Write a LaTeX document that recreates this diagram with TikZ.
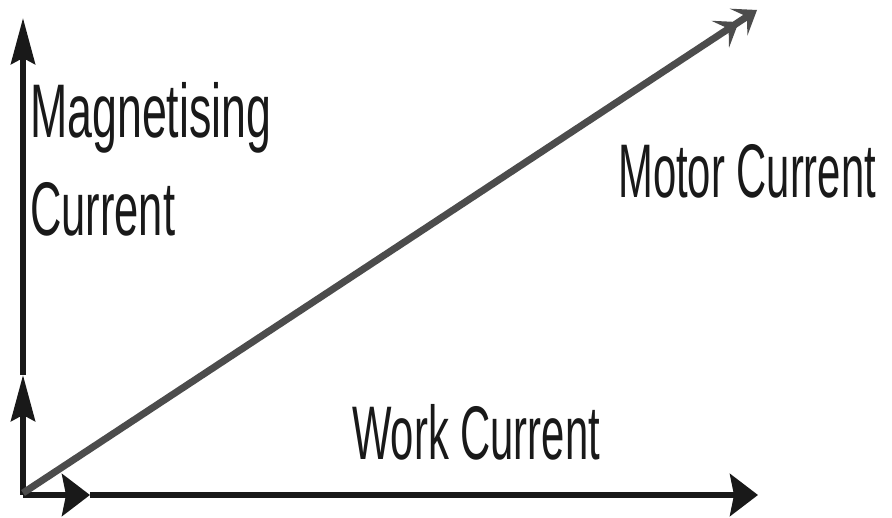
\documentclass[tikz,border=0pt]{standalone}
\usepackage{fontspec}
\setmainfont{Liberation Sans}
\usetikzlibrary{arrows.meta}
\begin{document}
\begin{tikzpicture}[x=0.5pt,y=0.5pt,
  axis/.style={line width=3pt, draw=black!90},
  vtip/.style={-{Stealth[length=23pt,width=12pt,inset=3pt]}},
  htip/.style={-{Stealth[length=14pt,width=21pt,inset=2pt]}},
  mtip/.style={-{Stealth[length=11pt,width=16pt,inset=5pt] Stealth[length=11pt,width=16pt,inset=5pt]}},
  lbl/.style={font=\fontsize{38}{40}\selectfont, text=black!90, inner sep=0pt, anchor=base west, xscale=0.55}]
\useasboundingbox (0,0) rectangle (892,518);
\def\ox{23};
\def\oy{23};
\coordinate (O) at (\ox,\oy);
\coordinate (Mmid) at (\ox,143);
\coordinate (Mtop) at (\ox,500);
\coordinate (Wmid) at (90,\oy);
\coordinate (Wend) at (758,\oy);
\coordinate (I) at (757,508);

\draw[axis,vtip] (O) -- (Mmid); %magnetising current%
\draw[axis,vtip] (Mmid) -- (Mtop);
\draw[axis,htip] (O) -- (Wmid); %work current%
\draw[axis,htip] (Wmid) -- (Wend);
\draw[line width=3.5pt, draw=black!70, mtip] (\ox,25) -- (I); %motor current%

\node[lbl, xscale=1.07] (mag) at (30,380) {Magnetising};
\node[lbl, xscale=1.04] (magc) at (30,282) {Current};
\node[lbl] (motor) at (618,320) {Motor Current};
\node[lbl] (work) at (352,58) {Work Current};
\end{tikzpicture}
\end{document}
